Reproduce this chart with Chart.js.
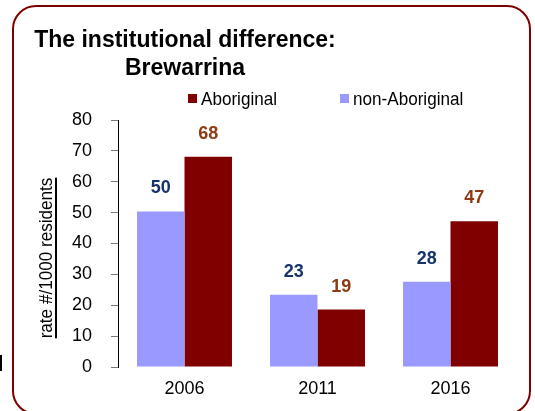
<!DOCTYPE html>
<html>
<head>
<meta charset="utf-8">
<script src="https://cdn.jsdelivr.net/npm/chart.js@4"></script>
<style>
  html, body { margin: 0; padding: 0; background: #fff; }
  #wrap { position: relative; width: 535px; height: 411px; overflow: hidden; font-family: "Liberation Sans", Arial, sans-serif; }
  #frame { position: absolute; left: 12px; top: 5px; width: 519px; height: 410px; border: 2.5px solid #800000; border-radius: 24px; box-sizing: border-box; }
  #title { position: absolute; left: 20px; top: 25px; width: 330px; text-align: center; font-weight: bold; font-size: 23px; line-height: 28px; color: #000; }
  .leg { position: absolute; top: 88px; font-size: 19px; line-height: 22px; color: #000; transform-origin: left center; transform: scaleX(0.9); white-space: nowrap; }
  .sw { position: absolute; top: 94px; width: 9px; height: 9px; }
  #ytitle { position: absolute; left: 46px; top: 258px; font-size: 19px; line-height: 20px; white-space: nowrap; color: #000;
    transform: translate(-50%, -50%) rotate(-90deg) scaleX(0.9);
    text-decoration: underline; text-decoration-thickness: 2px; text-underline-offset: 3px; }
  #frag { position: absolute; left: 0px; top: 355px; width: 2px; height: 16px; background: #000; }
  canvas { position: absolute; left: 0; top: 0; }
</style>
</head>
<body>
<div id="wrap">
  <canvas id="chart" width="535" height="411"></canvas>
  <div id="frame"></div>
  <div id="title">The institutional difference:<br>Brewarrina</div>
  <div class="sw" style="left:188px;background:#800000"></div>
  <div class="leg" style="left:201px">Aboriginal</div>
  <div class="sw" style="left:340px;background:#9999ff"></div>
  <div class="leg" style="left:353px">non-Aboriginal</div>
  <div id="ytitle">rate #/1000 residents</div>
  <div id="frag"></div>
</div>
<script>
const years = ['2006', '2011', '2016'];
const nonAboriginal = [50.4, 23.4, 27.6];
const aboriginal = [68.1, 18.6, 47.2];
const yTicks = [0, 10, 20, 30, 40, 50, 60, 70, 80];

// value labels above each bar
const barLabels = {
    id: 'barLabels',
    afterDatasetsDraw(chart) {
        const ctx = chart.ctx;
        ctx.save();
        ctx.font = 'bold 18px "Liberation Sans", Arial, sans-serif';
        ctx.textAlign = 'center';
        ctx.textBaseline = 'bottom';
        chart.data.datasets.forEach((ds, i) => {
            ctx.fillStyle = ds.labelColor;
            chart.getDatasetMeta(i).data.forEach((bar, j) => {
                ctx.fillText(Math.round(ds.data[j]), bar.x, bar.y - 14);
            });
        });
        ctx.restore();
    }
};

new Chart(document.getElementById('chart').getContext('2d'), {
    type: 'bar',
    data: {
        labels: years,
        datasets: [
            {
                label: 'non-Aboriginal',
                data: nonAboriginal,
                backgroundColor: '#9999ff',
                labelColor: '#17336e',
                barPercentage: 1,
                categoryPercentage: 0.714
            },
            {
                label: 'Aboriginal',
                data: aboriginal,
                backgroundColor: '#800000',
                labelColor: '#8e3a12',
                barPercentage: 1,
                categoryPercentage: 0.714
            }
        ]
    },
    options: {
        responsive: false,
        animation: false,
        layout: { padding: { left: 0, right: 18, top: 120, bottom: 0 } },
        plugins: {
            legend: { display: false },
            tooltip: { enabled: false }
        },
        scales: {
            y: {
                min: 0,
                max: 80,
                afterFit: s => { s.width = 118; },
                afterBuildTicks: s => { s.ticks = yTicks.map(v => ({ value: v })); },
                ticks: {
                    color: '#000',
                    padding: 19,
                    font: { size: 18, family: '"Liberation Sans", Arial, sans-serif' }
                },
                grid: { drawOnChartArea: false, tickLength: 7, color: '#777' },
                border: { display: true, color: '#000', width: 1 }
            },
            x: {
                afterFit: s => { s.height = 44; },
                ticks: {
                    color: '#000',
                    padding: 11,
                    font: { size: 18, family: '"Liberation Sans", Arial, sans-serif' }
                },
                grid: { display: false, drawTicks: false },
                border: { display: false }
            }
        }
    },
    plugins: [barLabels]
});
</script>
</body>
</html>
